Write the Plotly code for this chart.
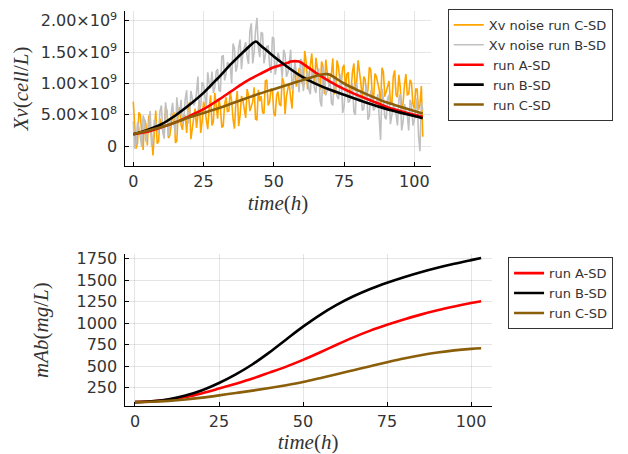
import plotly.graph_objects as go

# ---------------- data ----------------
# noise time grid (h), half-hour sampling 0 .. 103
noise_t = [i * 0.5 for i in range(207)]

# Xv noise run B-SD (units of 1e8 cell/L)
xv_noise_b = [4.0, -0.4, 0.5, 3.8, 3.0, 1.3, -0.1, 4.9, 4.1, 0.7, 2.3, 3.1, 5.6, 0.0, 1.0, 4.2, 3.6, 3.1, 2.1, 5.6,
              6.5, 2.2, 1.2, 7.0, 5.1, 1.6, 3.6, 5.3, 6.9, 3.7, 1.8, 7.8, 5.4, 4.9, 7.4, 3.6, 4.5, 7.6, 8.9, 3.6,
              4.4, 8.8, 7.9, 6.5, 7.0, 8.6, 11.1, 4.9, 6.4, 10.2, 9.8, 7.5, 6.1, 11.8, 10.0, 9.2, 11.9, 8.5, 9.3, 11.9,
              12.3, 8.9, 8.8, 14.3, 14.5, 10.5, 11.5, 13.4, 13.0, 12.8, 10.0, 16.4, 15.6, 11.9, 12.8, 15.7, 17.0, 12.3, 14.8, 15.7,
              16.6, 14.3, 13.1, 18.4, 19.6, 13.2, 15.0, 18.4, 20.5, 15.8, 14.2, 18.1, 18.0, 13.2, 14.8, 15.9, 16.0, 12.9, 11.7, 17.4,
              17.2, 11.4, 12.9, 14.9, 14.0, 13.1, 11.0, 15.4, 14.6, 11.1, 11.7, 13.1, 15.4, 9.1, 10.2, 13.5, 11.8, 10.8, 8.6, 13.9,
              13.6, 8.8, 10.4, 10.9, 12.0, 9.0, 8.3, 12.3, 11.0, 9.1, 8.5, 11.6, 12.4, 7.2, 6.3, 12.7, 10.6, 8.1, 8.9, 9.5,
              11.0, 6.9, 6.5, 11.1, 9.3, 8.0, 7.5, 9.5, 11.6, 5.3, 6.3, 9.9, 9.2, 7.0, 7.2, 8.6, 10.0, 5.5, 5.0, 10.1,
              7.7, 7.1, 8.9, 5.7, 5.9, 8.3, 9.8, 4.2, 4.8, 8.9, 7.6, 5.7, 6.1, 6.9, 8.3, 4.5, 1.0, 9.2, 7.6, 4.6,
              4.3, 7.6, 8.2, 3.5, 4.9, 6.4, 6.1, 5.1, 3.3, 7.5, 8.3, 2.5, 3.9, 6.7, 5.4, 5.0, 2.5, 7.4, 6.7, 3.3,
              4.2, 5.6, 7.7, 1.7, -0.8, 7.0, 5.8]

# Xv noise run C-SD (units of 1e8 cell/L)
xv_noise_c = [7.1, 2.7, -0.4, 0.5, 5.4, 5.0, 1.8, -0.6, 4.3, 3.5, 0.1, 4.9, 2.9, 1.7, -1.5, 3.1, 5.7, 0.4, 0.7, 4.4,
              3.5, 2.5, 2.3, 6.3, 5.6, 1.3, 1.7, 3.3, 5.0, 5.4, 0.5, 0.9, 5.6, 6.2, 3.4, 2.6, 4.9, 4.8, 2.1, 6.1,
              7.0, 1.1, 3.1, 4.5, 6.0, 2.9, 4.9, 7.4, 2.1, 3.9, 7.1, 6.1, 4.2, 2.7, 6.1, 8.1, 3.3, 3.9, 8.5, 5.9,
              4.4, 7.6, 6.1, 3.0, 3.2, 6.7, 7.8, 5.5, 5.6, 8.8, 7.2, 4.3, 2.8, 6.8, 8.8, 3.2, 4.9, 8.0, 7.3, 5.9,
              4.5, 9.1, 8.1, 5.6, 6.3, 7.1, 9.4, 4.3, 4.2, 9.0, 7.2, 8.0, 5.4, 5.2, 10.4, 10.6, 6.5, 7.0, 9.2, 8.9,
              5.3, 4.8, 8.1, 8.7, 6.7, 6.4, 10.9, 10.3, 5.1, 7.9, 9.2, 9.9, 7.7, 6.0, 10.7, 12.9, 9.5, 10.6, 12.4, 12.2,
              10.2, 9.6, 15.2, 13.5, 9.1, 11.0, 13.0, 14.8, 11.5, 9.8, 14.1, 12.3, 10.3, 9.0, 13.5, 12.7, 8.3, 13.8, 11.8, 10.1,
              10.6, 11.6, 14.0, 8.3, 8.7, 13.7, 12.7, 10.6, 10.1, 12.5, 13.0, 9.0, 11.5, 11.8, 7.9, 9.0, 11.9, 13.2, 8.8, 10.3,
              13.7, 12.2, 9.9, 7.4, 11.1, 10.7, 7.9, 9.0, 12.6, 12.2, 8.5, 7.4, 11.6, 11.1, 9.9, 9.0, 6.5, 12.5, 11.8, 7.9,
              8.7, 9.7, 10.4, 7.1, 6.6, 11.1, 12.1, 8.2, 7.8, 11.4, 9.4, 5.8, 6.9, 9.8, 11.5, 8.2, 8.3, 10.6, 10.1, 6.7,
              6.0, 9.1, 9.1, 5.8, 6.6, 9.6, 1.5]

# model runs, Xv (units of 1e8 cell/L)
xv_a_t = [0, 5, 10, 15, 20, 25, 30, 35, 40, 45, 50, 55, 56, 59, 60, 65, 70, 75, 80, 85, 90, 95, 100, 103]
xv_a = [1.9, 2.3, 3.0, 3.8, 4.8, 5.9, 7.3, 8.8, 10.3, 11.5, 12.6, 13.3, 13.5, 13.5, 13.25, 11.7, 10.3, 9.1, 8.1, 7.2, 6.3, 5.6, 5.0, 4.7]

xv_b_t = [0, 5, 10, 15, 20, 25, 30, 35, 40, 43.6, 45, 50, 55, 60, 65, 70, 75, 80, 85, 90, 95, 100, 103]
xv_b = [1.9, 2.6, 3.5, 4.9, 6.6, 8.5, 10.8, 13.2, 15.4, 16.7, 16.2, 14.3, 12.6, 11.1, 9.95, 9.0, 8.2, 7.4, 6.65, 5.95, 5.35, 4.8, 4.45]

xv_c_t = [0, 5, 10, 15, 20, 25, 30, 35, 40, 45, 50, 55, 60, 65, 67, 69, 70, 75, 80, 85, 90, 95, 100, 103]
xv_c = [1.9, 2.45, 3.05, 3.8, 4.6, 5.3, 6.0, 6.8, 7.6, 8.4, 9.1, 9.8, 10.5, 11.2, 11.45, 11.5, 11.4, 10.0, 8.9, 7.9, 7.0, 6.3, 5.6, 5.2]

# mAb (mg/L)
mab_t = [0, 5, 10, 15, 20, 25, 30, 35, 40, 45, 50, 55, 60, 65, 70, 75, 80, 85, 90, 95, 100, 103]
mab_a = [85, 93, 111, 143, 189, 243, 299, 359, 427, 497, 575, 661, 751, 837, 915, 983, 1045, 1101, 1151, 1195, 1235, 1257]
mab_b = [85, 95, 119, 161, 223, 307, 407, 525, 663, 813, 961, 1096, 1214, 1314, 1399, 1471, 1536, 1594, 1646, 1692, 1734, 1758]
mab_c = [85, 89, 99, 115, 137, 163, 191, 218, 248, 281, 318, 362, 408, 455, 502, 548, 592, 630, 661, 686, 703, 710]

x_ticks = [0, 25, 50, 75, 100]
xv_tickvals = [0, 5, 10, 15, 20]
xv_ticktext = ["0", "5.00×10<sup>8</sup>", "1.00×10<sup>9</sup>", "1.50×10<sup>9</sup>", "2.00×10<sup>9</sup>"]
mab_ticks = [250, 500, 750, 1000, 1250, 1500, 1750]

# ---------------- style ----------------
ORANGE = "#FFA500"
GREY = "#C0C0C0"
RED = "#FF0000"
BLACK = "#000000"
BROWN = "#8B5E0A"
TXT = "#333333"
SANS = "DejaVu Sans"
SERIF = "Liberation Serif"

fig = go.Figure()

fig.add_trace(go.Scatter(x=noise_t, y=xv_noise_c, mode="lines", name="Xv noise run C-SD",
                         line=dict(color=ORANGE, width=1.6), xaxis="x", yaxis="y", legend="legend"))
fig.add_trace(go.Scatter(x=noise_t, y=xv_noise_b, mode="lines", name="Xv noise run B-SD",
                         line=dict(color=GREY, width=1.6), xaxis="x", yaxis="y", legend="legend"))
fig.add_trace(go.Scatter(x=xv_a_t, y=xv_a, mode="lines", name="\u00a0run A-SD",
                         line=dict(color=RED, width=2.6, shape="spline", smoothing=0.8),
                         xaxis="x", yaxis="y", legend="legend"))
fig.add_trace(go.Scatter(x=xv_b_t, y=xv_b, mode="lines", name="\u00a0run B-SD",
                         line=dict(color=BLACK, width=2.6, shape="spline", smoothing=0.8),
                         xaxis="x", yaxis="y", legend="legend"))
fig.add_trace(go.Scatter(x=xv_c_t, y=xv_c, mode="lines", name="\u00a0run C-SD",
                         line=dict(color=BROWN, width=2.6, shape="spline", smoothing=0.8),
                         xaxis="x", yaxis="y", legend="legend"))

fig.add_trace(go.Scatter(x=mab_t, y=mab_a, mode="lines", name="run A-SD",
                         line=dict(color=RED, width=2.6, shape="spline", smoothing=1.0),
                         xaxis="x2", yaxis="y2", legend="legend2"))
fig.add_trace(go.Scatter(x=mab_t, y=mab_b, mode="lines", name="run B-SD",
                         line=dict(color=BLACK, width=2.6, shape="spline", smoothing=1.0),
                         xaxis="x2", yaxis="y2", legend="legend2"))
fig.add_trace(go.Scatter(x=mab_t, y=mab_c, mode="lines", name="run C-SD",
                         line=dict(color=BROWN, width=2.6, shape="spline", smoothing=1.0),
                         xaxis="x2", yaxis="y2", legend="legend2"))

axis_common = dict(showline=True, linecolor="#000000", linewidth=1.3, mirror=False,
                   ticks="inside", ticklen=4, tickcolor="#000000", tickwidth=1,
                   showgrid=True, gridcolor="rgba(0,0,0,0.1)", gridwidth=1, zeroline=False,
                   tickfont=dict(family=SANS, size=16, color=TXT))

title_font = dict(family=SERIF, size=21, color=TXT)

fig.update_layout(
    width=628, height=454,
    margin=dict(l=0, r=0, t=0, b=0),
    paper_bgcolor="white", plot_bgcolor="white",
    xaxis=dict(axis_common, domain=[0.1984, 0.687], range=[-3.09, 106.09], tickvals=x_ticks,
               anchor="y", ticklabelstandoff=0,
               title=dict(text="<i>time</i>(<i>h</i>)", font=title_font, standoff=0)),
    yaxis=dict(axis_common, domain=[0.641, 0.987], range=[-3.2, 21.6], tickvals=xv_tickvals,
               ticktext=xv_ticktext, anchor="x", ticklabelstandoff=3,
               title=dict(text="<i>Xv</i>(<i>cell</i>/<i>L</i>)", font=title_font, standoff=6)),
    xaxis2=dict(axis_common, domain=[0.1984, 0.7827], range=[-3.09, 106.09], tickvals=x_ticks,
                anchor="y2", ticklabelstandoff=0,
                title=dict(text="<i>time</i>(<i>h</i>)", font=title_font, standoff=5)),
    yaxis2=dict(axis_common, domain=[0.1064, 0.4456], range=[37, 1806], tickvals=mab_ticks,
                anchor="x2", ticklabelstandoff=3,
                title=dict(text="<i>mAb</i>(<i>mg</i>/<i>L</i>)", font=title_font, standoff=22)),
    legend=dict(x=0.713, y=0.9912, xanchor="left", yanchor="top",
                bordercolor="#333333", borderwidth=1, bgcolor="white",
                font=dict(family=SANS, size=13, color=TXT), tracegroupgap=0),
    legend2=dict(x=0.809, y=0.4383, xanchor="left", yanchor="top",
                 bordercolor="#333333", borderwidth=1, bgcolor="white",
                 font=dict(family=SANS, size=13, color=TXT), tracegroupgap=0),
    showlegend=True,
)

fig.write_html("out.html", config={"displayModeBar": False})

# remove the default page margin so the figure sits at the window origin
with open("out.html", "r", encoding="utf-8") as f:
    html = f.read()
html = html.replace("<body>", '<body style="margin:0;padding:0;overflow:hidden">', 1)
with open("out.html", "w", encoding="utf-8") as f:
    f.write(html)
